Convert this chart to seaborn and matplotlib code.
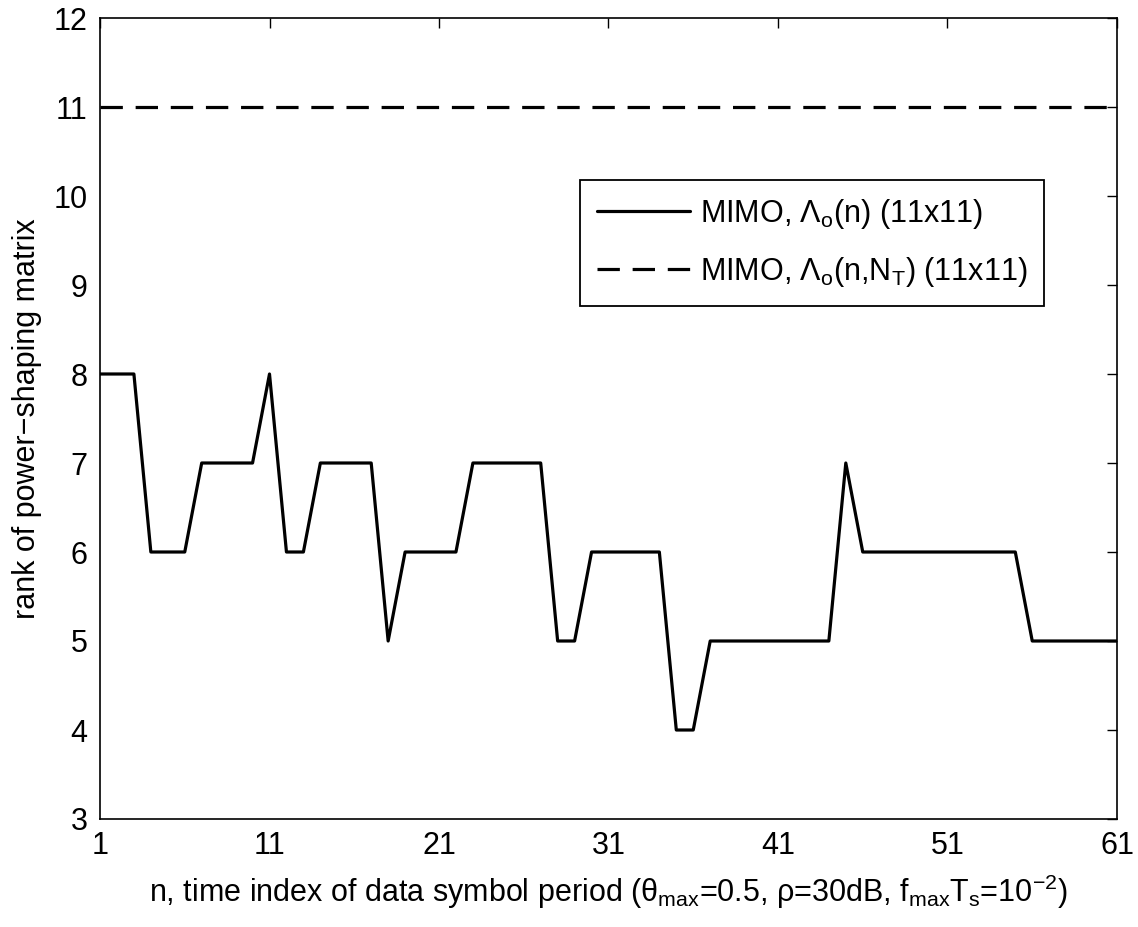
import matplotlib
matplotlib.use("Agg")
import matplotlib.pyplot as plt
import seaborn as sns
import pandas as pd
import numpy as np
from matplotlib.lines import Line2D

n_index = list(range(1, 62))
rank_lambda_n = [8, 8, 8, 6, 6, 6, 7, 7, 7, 7,
                 8, 6, 6, 7, 7, 7, 7, 5, 6, 6,
                 6, 6, 7, 7, 7, 7, 7, 5, 5, 6,
                 6, 6, 6, 6, 4, 4, 5, 5, 5, 5,
                 5, 5, 5, 5, 7, 6, 6, 6, 6, 6,
                 6, 6, 6, 6, 6, 5, 5, 5, 5, 5,
                 5]
rank_lambda_nT = [11] * 61
x_ticks = [1, 11, 21, 31, 41, 51, 61]
y_ticks = list(range(3, 13))
label_solid = r'MIMO, $\Lambda_{\rm o}$(n) (11x11)'
label_dashed = r'MIMO, $\Lambda_{\rm o}$(n,N$_{\rm T}$) (11x11)'

sns.set_theme(style="white")
plt.rcParams['font.family'] = ['Liberation Sans', 'DejaVu Sans']
plt.rcParams['mathtext.fontset'] = 'custom'
plt.rcParams['mathtext.rm'] = 'Liberation Sans'
plt.rcParams['mathtext.it'] = 'Liberation Sans:italic'
plt.rcParams['mathtext.default'] = 'regular'
plt.rcParams['text.color'] = 'black'
plt.rcParams['legend.labelcolor'] = 'black'

df = pd.DataFrame({
    'n': n_index * 2,
    'rank': rank_lambda_n + rank_lambda_nT,
    'series': [label_solid] * 61 + [label_dashed] * 61,
})

fig = plt.figure(figsize=(11.38, 9.27), dpi=100)
ax = fig.add_axes([100 / 1138, 1 - 819 / 927, 1017 / 1138, 801 / 927])

sns.lineplot(data=df, x='n', y='rank', hue='series', style='series',
             palette=['black', 'black'], dashes=[(None, None), (6, 3)],
             linewidth=2.3, ax=ax, legend=False)
ax.lines[0].set_linestyle('-')
ax.lines[1].set_linestyle((0, (7, 4)))

ax.set_xlim(1, 61)
ax.set_ylim(3, 12)
ax.set_xticks(x_ticks)
ax.set_yticks(y_ticks)
ax.tick_params(direction='in', length=7, width=1, top=True, right=True,
               labelsize=22, colors='black')
ax.tick_params(axis='x', pad=9)
ax.tick_params(axis='y', pad=9)
for sp in ax.spines.values():
    sp.set_color('black')
    sp.set_linewidth(1.2)

ax.set_xlabel(r'n, time index of data symbol period ($\theta_{\rm max}$=0.5, $\rho$=30dB, f$_{\rm max}$T$_{\rm s}$=10$^{-2}$)',
              fontsize=22, color='black', labelpad=8)
ax.set_ylabel('rank of power\u2212shaping matrix', fontsize=22, color='black', labelpad=8)

handles = [Line2D([0], [0], color='black', lw=2.3, ls='-'),
           Line2D([0], [0], color='black', lw=2.3, ls=(0, (7, 4)))]
leg = ax.legend(handles, [label_solid, label_dashed], loc='upper left',
                bbox_to_anchor=(0.472, 0.798), fontsize=22, frameon=True,
                fancybox=False, edgecolor='black', framealpha=1,
                handlelength=3.05, borderpad=0.55, labelspacing=0.8,
                handletextpad=0.33, borderaxespad=0)
leg.get_frame().set_linewidth(1.3)
leg.get_frame().set_edgecolor('black')
for t in leg.get_texts():
    t.set_color('black')

fig.savefig('out.png', dpi=100, facecolor='white')
